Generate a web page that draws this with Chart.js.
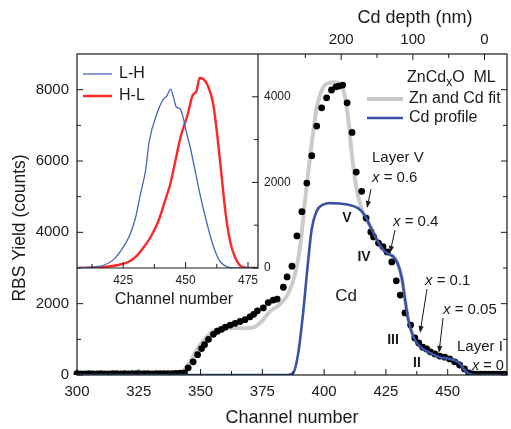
<!DOCTYPE html>
<html lang="en">
<head>
  <meta charset="UTF-8">
  <title>RBS yield vs channel number</title>
  <script src="https://cdn.jsdelivr.net/npm/chart.js"></script>
  <style>
    body, html {
      margin: 0;
      padding: 0;
      background: #fff;
    }

    .wrap {
      position: relative;
      width: 511px;
      height: 429px;
    }

    .wrap canvas {
      position: absolute;
      left: 0;
      top: 0;
    }

    #inset-chart {
      pointer-events: none;
    }
  </style>
</head>
<body>
  <div class="wrap">
    <canvas id="main-chart" width="511" height="429"></canvas>
    <canvas id="inset-chart" width="511" height="429"></canvas>
  </div>
  <script>
    // ---- main panel data (channel number, counts) ----
    const dotChannels = [
      300, 301.6, 303.2, 304.8, 306.4, 308, 309.6, 311.2, 312.8, 314.4, 316, 317.6, 319.2, 320.8,
      322.4, 324, 325.6, 327.2, 328.8, 330.4, 332, 333.6, 335.2, 336.8, 338.4, 340, 341.7,
      343.5, 345, 347, 348.8, 350.4, 351.6, 353.2, 355.2, 356.8, 358.5, 360, 362, 364, 366, 368,
      370, 371.5, 373, 375.4, 377.4, 379.4, 381, 383.5, 385, 387, 389, 391, 393, 395, 397, 399,
      401, 403, 404.8, 406, 407.5, 409.3, 411.3, 413, 415.2, 417, 418.9, 420, 422, 423.8, 425.5,
      427.4, 429.2, 430.8, 432.7, 435, 436.7, 438.3, 439.9, 441.5, 443, 444.8, 446.8, 448.8,
      450.8, 452.8, 454.8, 456.8, 458.5, 460.2, 461.8, 463.4, 465, 466.6, 468.2, 469.8, 471.4, 473
    ];
    const dotCounts = [
      35, 30, 30, 35, 30, 30, 35, 30, 30, 35, 35, 30, 35, 30,
      35, 35, 30, 35, 35, 30, 35, 40, 35, 40, 40, 45, 50,
      60, 200, 370, 570, 740, 850, 1000, 1140, 1230, 1280, 1340, 1400, 1450, 1500, 1550,
      1630, 1700, 1800, 1880, 2030, 2100, 2130, 2460, 2750, 3050, 3900, 4580, 5380, 6150, 6980, 7490,
      7770, 7990, 8080, 8100, 8130, 7630, 6800, 5690, 5150, 4400, 4010, 3870, 3700, 3600, 3450,
      3170, 2640, 2240, 1740, 1400, 1040, 900, 780, 730, 650, 590, 530, 500,
      450, 370, 280, 170, 60, 30, 25, 25, 25, 25, 25, 25, 25, 25
    ];

    // Zn and Cd fit, up to where it joins the Cd profile
    const fitChannels = [
      300, 338, 341, 343, 345, 347, 349, 351, 353, 355, 357, 360, 364, 368, 371, 373, 375, 378,
      381, 383, 385.6, 388.3, 390.3, 391.7, 393, 395, 397, 399.7, 402, 404, 405.8, 408.5, 409.8,
      411.2, 412.9, 415.2, 416.5
    ];
    const fitCounts = [
      0, 0, 20, 120, 300, 520, 760, 950, 1100, 1220, 1290, 1320, 1320, 1310, 1330, 1400, 1520, 1780,
      1920, 2050, 2300, 2850, 3600, 4500, 5350, 6500, 7500, 8080, 8190, 8210, 8180, 7800, 7150,
      6200, 5300, 4650, 4420
    ];

    const cdChannels = [
      300, 385, 387.5, 389.5, 391.5, 393.5, 395, 397, 399.6, 402.4, 406, 409.3, 413.7, 416.5, 418.5,
      421.4, 423.8, 425.8, 427.8, 429.8, 431.5, 432.7, 434, 436, 438.7, 442.7, 446.8, 450, 452.5,
      454.8, 456.8, 458.8, 460.5, 474
    ];
    const cdCounts = [
      0, 0, 60, 600, 1740, 3180, 4100, 4600, 4780, 4820, 4810, 4780, 4680, 4480, 4190,
      3790, 3520, 3400, 3330, 3120, 2700, 2140, 1570, 1090, 800, 630, 500, 460, 420,
      330, 140, 30, 0, 0
    ];

    const channelTicks = [300, 325, 350, 375, 400, 425, 450, 475];
    const channelMinor = [312.5, 337.5, 362.5, 387.5, 412.5, 437.5, 462.5];
    const countTicks = [0, 2000, 4000, 6000, 8000];
    const countMinor = [1000, 3000, 5000, 7000];
    const depthTicks = [0, 100, 200];
    const depthMinor = [50, 150, 250];

    // ---- inset data ----
    const lhChannels = [
      406.5, 413.5, 417.5, 421, 423.4, 426, 428, 430, 432, 434, 435.4, 438.8, 440.8, 442.5, 444,
      445.2, 446.3, 447.8, 449, 450, 452, 454, 456, 458, 460, 462, 464, 466.7, 469, 479
    ];
    const lhCounts = [
      0, 25, 70, 190, 350, 580, 820, 1190, 1750, 2290, 2950, 3650, 3920, 4020, 4180,
      3980, 3760, 3720, 3520, 3250, 2780, 2220, 1660, 1170, 725, 370, 140, 25, 0, 0
    ];
    const hlChannels = [
      406.5, 417.5, 423, 427, 430, 433.3, 436, 439, 441.5, 444, 446, 448, 450.8, 452.8, 454.4,
      455.6, 457, 459, 461, 462.7, 464.3, 466, 468, 470, 472.6, 475.8, 479
    ];
    const hlCounts = [
      0, 25, 70, 140, 260, 490, 725, 1080, 1520, 1990, 2530, 3060, 3580, 4030, 4140,
      4440, 4420, 4250, 3850, 3100, 2220, 1290, 580, 230, 25, 0, 0
    ];
    const insetTicks = [425, 450, 475];
    const insetMinor = [412.5, 437.5, 462.5];
    const insetCountTicks = [0, 2000, 4000];
    const insetCountMinor = [1000, 3000];

    const FONT = '"Liberation Sans", Arial, sans-serif';
    const INK = '#1a1a1a';
    const CD_BLUE = '#3a52a6';
    const FIT_GREY = '#cbcbcb';
    Chart.defaults.font.family = FONT;
    Chart.defaults.color = INK;

    const pts = (xs, ys) => xs.map((x, i) => ({ x: x, y: ys[i] }));
    const fitPoints = pts(fitChannels, fitCounts).concat(
      pts(cdChannels, cdCounts).filter(p => p.x > fitChannels[fitChannels.length - 1])
    );
    const plain = v => String(v);

    // top axis: channel 464.9 is the surface, 58 channels per 200 nm
    const nmAt = ch => (464.9 - ch) * 200 / 58;

    function font(size, style) {
      return (style ? style + ' ' : '') + size + 'px ' + FONT;
    }

    function arrow(ctx, x1, y1, x2, y2) {
      const ang = Math.atan2(y2 - y1, x2 - x1);
      const len = 7, half = 2.6;
      const bx = x2 - len * Math.cos(ang), by = y2 - len * Math.sin(ang);
      ctx.beginPath();
      ctx.moveTo(x1, y1);
      ctx.lineTo(bx, by);
      ctx.stroke();
      ctx.beginPath();
      ctx.moveTo(x2, y2);
      ctx.lineTo(bx + half * Math.sin(ang), by - half * Math.cos(ang));
      ctx.lineTo(bx - half * Math.sin(ang), by + half * Math.cos(ang));
      ctx.closePath();
      ctx.fill();
    }

    // x = value label with italic x
    function xEquals(ctx, text, x, y, size) {
      ctx.font = font(size, 'italic');
      ctx.fillText('x', x, y);
      const w = ctx.measureText('x').width;
      ctx.font = font(size);
      ctx.fillText(text, x + w, y);
    }

    const mainDecor = {
      id: 'mainDecor',
      afterDraw(chart) {
        const { ctx, chartArea: a, scales } = chart;
        const sx = scales.x, sy = scales.y, st = scales.xTop;
        ctx.save();
        ctx.strokeStyle = INK;
        ctx.fillStyle = INK;
        ctx.lineWidth = 1.2;
        ctx.strokeRect(a.left, a.top, a.right - a.left, a.bottom - a.top);

        ctx.beginPath();
        ctx.lineWidth = 1;
        channelTicks.concat(channelMinor).forEach(v => {
          if (v > sx.max) return;
          const px = sx.getPixelForValue(v);
          const l = channelTicks.includes(v) ? 6 : 4;
          ctx.moveTo(px, a.bottom);
          ctx.lineTo(px, a.bottom - l);
        });
        countTicks.concat(countMinor).forEach(v => {
          const py = sy.getPixelForValue(v);
          const l = countTicks.includes(v) ? 6 : 4;
          ctx.moveTo(a.left, py);
          ctx.lineTo(a.left + l, py);
          ctx.moveTo(a.right, py);
          ctx.lineTo(a.right - l, py);
        });
        depthTicks.concat(depthMinor).forEach(v => {
          const px = st.getPixelForValue(v);
          const l = depthTicks.includes(v) ? 6 : 4;
          ctx.moveTo(px, a.top);
          ctx.lineTo(px, a.top + l);
        });
        ctx.stroke();

        // axis titles
        ctx.textAlign = 'center';
        ctx.textBaseline = 'alphabetic';
        ctx.font = font(18);
        ctx.fillText('Channel number', (a.left + a.right) / 2, 423);
        ctx.fillText('Cd depth (nm)', 415, 23);
        ctx.save();
        ctx.translate(25, 228);
        ctx.rotate(-Math.PI / 2);
        ctx.font = font(17.5);
        ctx.fillText('RBS Yield (counts)', 0, 0);
        ctx.restore();

        // legend
        ctx.textAlign = 'left';
        let x = 407;
        ctx.font = font(16);
        ctx.fillText('ZnCd', x, 82);
        x += ctx.measureText('ZnCd').width;
        ctx.font = font(12);
        ctx.fillText('x', x, 86);
        x += ctx.measureText('x').width;
        ctx.font = font(16);
        ctx.fillText('O  ML', x, 82);

        ctx.lineCap = 'butt';
        ctx.beginPath();
        ctx.strokeStyle = FIT_GREY;
        ctx.lineWidth = 4;
        ctx.moveTo(367, 99);
        ctx.lineTo(403, 99);
        ctx.stroke();
        ctx.beginPath();
        ctx.strokeStyle = CD_BLUE;
        ctx.lineWidth = 2.5;
        ctx.moveTo(367, 118);
        ctx.lineTo(403, 118);
        ctx.stroke();
        ctx.textBaseline = 'middle';
        ctx.fillText('Zn and Cd fit', 409, 99);
        ctx.fillText('Cd profile', 409, 118);

        // annotations
        ctx.fillStyle = INK;
        ctx.strokeStyle = INK;
        ctx.lineWidth = 1;
        ctx.font = font(15);
        ctx.fillText('Layer V', 372, 158);
        xEquals(ctx, ' = 0.6', 372, 178, 15);
        xEquals(ctx, ' = 0.4', 393, 222, 15);
        xEquals(ctx, ' = 0.1', 425, 281, 15);
        xEquals(ctx, ' = 0.05', 443, 310, 15);
        ctx.font = font(15);
        ctx.fillText('Layer I', 457, 347);
        xEquals(ctx, ' = 0', 472, 366, 14.5);

        arrow(ctx, 371, 189, 367, 208);
        arrow(ctx, 395, 230, 390, 253);
        arrow(ctx, 427, 289, 420, 333);
        arrow(ctx, 443, 318, 439, 353);

        ctx.textAlign = 'center';
        ctx.font = font(14, 'bold');
        ctx.fillText('V', 347, 218);
        ctx.fillText('IV', 364, 257);
        ctx.fillText('III', 393, 340);
        ctx.fillText('II', 417, 363);
        ctx.font = font(17);
        ctx.fillText('Cd', 346, 296);
        ctx.restore();
      }
    };

    new Chart(document.getElementById('main-chart'), {
      type: 'scatter',
      data: {
        datasets: [
          {
            label: 'Cd profile',
            data: pts(cdChannels, cdCounts),
            showLine: true,
            borderColor: CD_BLUE,
            borderWidth: 2.6,
            pointRadius: 0,
            cubicInterpolationMode: 'monotone',
            order: 0
          },
          {
            label: 'data',
            data: pts(dotChannels, dotCounts),
            backgroundColor: '#000',
            borderWidth: 0,
            pointRadius: 3.4,
            clip: { left: 4, right: 4, top: 4, bottom: 0 },
            order: 1
          },
          {
            label: 'Zn and Cd fit',
            data: fitPoints,
            showLine: true,
            borderColor: FIT_GREY,
            borderWidth: 4,
            pointRadius: 0,
            cubicInterpolationMode: 'monotone',
            order: 2
          }
        ]
      },
      options: {
        responsive: false,
        animation: false,
        layout: { padding: { left: 0, right: 3, top: 0, bottom: 0 } },
        plugins: { legend: { display: false }, tooltip: { enabled: false } },
        scales: {
          x: {
            type: 'linear',
            position: 'bottom',
            min: 300,
            max: 474,
            afterBuildTicks: s => { s.ticks = channelTicks.filter(v => v <= s.max).map(v => ({ value: v })); },
            afterFit: s => { s.height = 54; },
            ticks: { font: { size: 15 }, padding: 8, maxRotation: 0, callback: plain },
            grid: { display: false, drawTicks: false },
            border: { display: false }
          },
          xTop: {
            type: 'linear',
            position: 'top',
            reverse: true,
            min: nmAt(474),
            max: nmAt(300),
            afterBuildTicks: s => { s.ticks = depthTicks.map(v => ({ value: v })); },
            afterFit: s => { s.height = 54; },
            ticks: { font: { size: 15 }, padding: 5, maxRotation: 0, callback: plain },
            grid: { display: false, drawTicks: false },
            border: { display: false }
          },
          y: {
            min: 0,
            max: 9000,
            afterBuildTicks: s => { s.ticks = countTicks.map(v => ({ value: v })); },
            afterFit: s => { s.width = 77; },
            ticks: { font: { size: 15 }, padding: 8, callback: plain },
            grid: { display: false, drawTicks: false },
            border: { display: false }
          }
        }
      },
      plugins: [mainDecor]
    });

    const insetDecor = {
      id: 'insetDecor',
      afterDraw(chart) {
        const { ctx, chartArea: a, scales } = chart;
        const sx = scales.x, sy = scales.y;
        ctx.save();
        ctx.strokeStyle = INK;
        ctx.fillStyle = INK;
        ctx.lineWidth = 1.2;
        ctx.beginPath();
        ctx.moveTo(a.left, a.bottom);
        ctx.lineTo(a.right, a.bottom);
        ctx.lineTo(a.right, a.top);
        ctx.stroke();

        ctx.lineWidth = 1;
        ctx.beginPath();
        insetTicks.concat(insetMinor).forEach(v => {
          const px = sx.getPixelForValue(v);
          const l = insetTicks.includes(v) ? 6 : 4;
          ctx.moveTo(px, a.bottom);
          ctx.lineTo(px, a.bottom - l);
        });
        insetCountTicks.concat(insetCountMinor).forEach(v => {
          const py = sy.getPixelForValue(v);
          const l = insetCountTicks.includes(v) ? 6 : 4;
          ctx.moveTo(a.right, py);
          ctx.lineTo(a.right - l, py);
        });
        ctx.stroke();

        ctx.font = font(16);
        ctx.textAlign = 'center';
        ctx.textBaseline = 'alphabetic';
        ctx.fillText('Channel number', 174, 304);

        // inset legend
        ctx.beginPath();
        ctx.strokeStyle = '#4863b8';
        ctx.lineWidth = 1.3;
        ctx.moveTo(83, 74);
        ctx.lineTo(112, 74);
        ctx.stroke();
        ctx.beginPath();
        ctx.strokeStyle = '#ff2626';
        ctx.lineWidth = 2.5;
        ctx.moveTo(83, 96);
        ctx.lineTo(112, 96);
        ctx.stroke();
        ctx.textAlign = 'left';
        ctx.textBaseline = 'middle';
        ctx.fillText('L-H', 119, 74);
        ctx.fillText('H-L', 119, 96);
        ctx.restore();
      }
    };

    new Chart(document.getElementById('inset-chart'), {
      type: 'scatter',
      data: {
        datasets: [
          {
            label: 'L-H',
            data: pts(lhChannels, lhCounts),
            showLine: true,
            borderColor: '#4863b8',
            borderWidth: 1.3,
            pointRadius: 0,
            cubicInterpolationMode: 'monotone'
          },
          {
            label: 'H-L',
            data: pts(hlChannels, hlCounts),
            showLine: true,
            borderColor: '#ff2626',
            borderWidth: 2.4,
            pointRadius: 0,
            cubicInterpolationMode: 'monotone'
          }
        ]
      },
      options: {
        responsive: false,
        animation: false,
        layout: { padding: { left: 77, right: 213, top: 54, bottom: 116 } },
        plugins: { legend: { display: false }, tooltip: { enabled: false } },
        scales: {
          x: {
            type: 'linear',
            min: 406.5,
            max: 479,
            afterBuildTicks: s => { s.ticks = insetTicks.map(v => ({ value: v })); },
            afterFit: s => { s.height = 45; },
            ticks: { font: { size: 12 }, padding: 5, maxRotation: 0, callback: plain },
            grid: { display: false, drawTicks: false },
            border: { display: false }
          },
          y: {
            position: 'right',
            min: 0,
            max: 5000,
            afterBuildTicks: s => { s.ticks = insetCountTicks.map(v => ({ value: v })); },
            afterFit: s => { s.width = 40; },
            ticks: { font: { size: 12 }, padding: 6, callback: plain },
            grid: { display: false, drawTicks: false },
            border: { display: false }
          }
        }
      },
      plugins: [insetDecor]
    });
  </script>
</body>
</html>
